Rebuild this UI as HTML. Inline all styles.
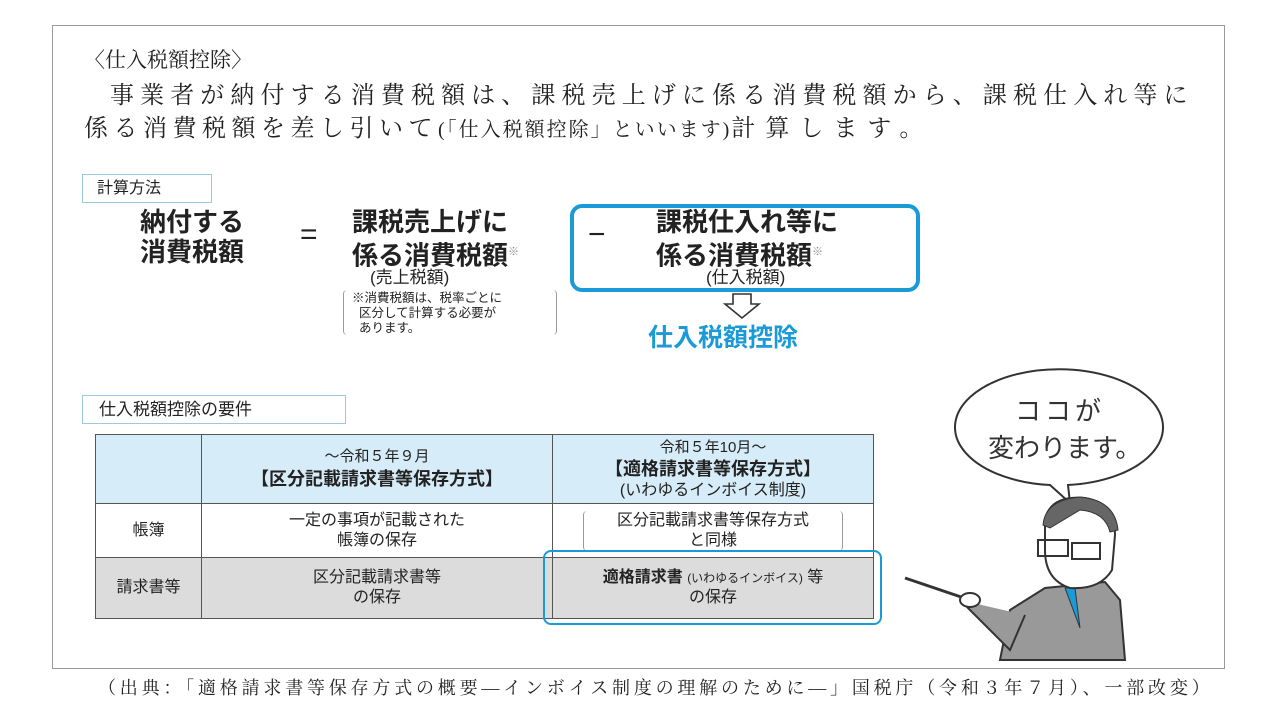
<!DOCTYPE html>
<html><head><meta charset="utf-8"><style>
body{margin:0;width:1280px;height:720px;background:#fff;position:relative;overflow:hidden;font-family:"Liberation Sans","Noto Sans CJK JP",sans-serif;color:#222}
.a{position:absolute;white-space:nowrap}
.serif{font-family:"Liberation Serif","Noto Serif CJK SC",serif}
.b{font-weight:bold}
table{border-collapse:collapse;position:absolute;left:95px;top:434px}
td{border:1px solid #555;text-align:center;font-size:16px;line-height:20px;padding:0}
</style></head><body>
<div class="a" style="left:52px;top:25px;width:1171px;height:642px;border:1px solid #999"></div>
<div class="a serif" style="left:84px;top:44px;font-size:21px">〈仕入税額控除〉</div>
<div class="a serif" style="left:110px;top:75px;font-size:24px;letter-spacing:6.1px">事業者が納付する消費税額は、課税売上げに係る消費税額から、課税仕入れ等に</div>
<div class="a serif" style="left:84px;top:108px;font-size:24px;letter-spacing:5.5px">係る消費税額を差し引いて<span style="font-size:20px;letter-spacing:2px">(「仕入税額控除」といいます)</span><span style="letter-spacing:10px">計算します。</span></div>

<div class="a" style="left:82px;top:174px;width:128px;height:27px;border:1px solid #9cc9df;font-size:16px;line-height:27px;text-indent:14px">計算方法</div>
<div class="a b" style="left:140px;top:207px;font-size:26px;line-height:30px">納付する<br>消費税額</div>
<div class="a" style="left:300px;top:218px;font-size:30px">=</div>
<div class="a b" style="left:352px;top:207px;font-size:26px;line-height:30px">課税売上げに<br>係る消費税額<sup style="font-size:11px;font-weight:normal;color:#888">※</sup></div>
<div class="a" style="left:370px;top:263px;font-size:17px">(売上税額)</div>
<div class="a" style="left:343px;top:290px;width:204px;height:44px;border-left:1px solid #999;border-right:1px solid #999;border-radius:4px;font-size:12.5px;line-height:15px;padding-left:8px;padding-top:1px">※消費税額は、税率ごとに<br>&nbsp;&nbsp;区分して計算する必要が<br>&nbsp;&nbsp;あります。</div>
<div class="a" style="left:570px;top:204px;width:342px;height:80px;border:4px solid #1a9ad6;border-radius:12px"></div>
<div class="a" style="left:588px;top:218px;font-size:30px">−</div>
<div class="a b" style="left:656px;top:207px;font-size:26px;line-height:30px">課税仕入れ等に<br>係る消費税額<sup style="font-size:11px;font-weight:normal;color:#888">※</sup></div>
<div class="a" style="left:706px;top:263px;font-size:17px">(仕入税額)</div>
<svg class="a" style="left:722px;top:292px" width="40" height="28"><path d="M11 2H29V12H37L20 26L3 12H11Z" fill="none" stroke="#333" stroke-width="1.6"/></svg>
<div class="a b" style="left:648px;top:318px;font-size:25px;color:#1a9ad6">仕入税額控除</div>

<div class="a" style="left:82px;top:395px;width:262px;height:27px;border:1px solid #9cc9df;font-size:17px;line-height:27px;text-indent:16px">仕入税額控除の要件</div>
<table>
<tr style="height:69px;background:#d6ecf8"><td style="width:105px"></td><td style="width:350px"><span style="font-size:15px">〜令和５年９月</span><br><b style="font-size:18px;line-height:24px">【区分記載請求書等保存方式】</b></td><td style="width:320px"><span style="font-size:15px">令和５年10月〜</span><br><b style="font-size:18px;line-height:22px">【適格請求書等保存方式】</b><br>(いわゆるインボイス制度)</td></tr>
<tr style="height:54px"><td>帳簿</td><td>一定の事項が記載された<br>帳簿の保存</td><td><div style="margin:0 30px;border-left:1px solid #999;border-right:1px solid #999;border-radius:4px">区分記載請求書等保存方式<br>と同様</div></td></tr>
<tr style="height:61px;background:#dcdcdc"><td>請求書等</td><td>区分記載請求書等<br>の保存</td><td><b>適格請求書</b> <span style="font-size:12px">(いわゆるインボイス)</span> 等<br>の保存</td></tr>
</table>
<div class="a" style="left:543px;top:550px;width:335px;height:71px;border:2.5px solid #1a9ad6;border-radius:8px"></div>

<svg class="a" style="left:900px;top:360px" width="330" height="310">
<path d="M170 143 L168 125 A104 58 0 1 0 150 125 Z" fill="#fff" stroke="#333" stroke-width="2"/>
<text x="115" y="60" font-size="26" font-family="Noto Sans CJK JP,sans-serif" fill="#333" letter-spacing="4">ココが</text>
<text x="88" y="97" font-size="26" font-family="Noto Sans CJK JP,sans-serif" fill="#333">変わります。</text>
<path d="M100 300 L110 250 L145 228 L205 222 L220 240 L225 300 Z" fill="#999" stroke="#333" stroke-width="2"/>
<path d="M60 240 L110 290 L125 255" fill="#999" stroke="#333" stroke-width="2"/>
<path d="M165 228 L180 268 L175 228Z" fill="#1a9ad6" stroke="#333"/>
<path d="M145 160 Q150 135 185 138 Q215 145 215 175 L212 210 Q200 230 170 228 Q145 220 145 190Z" fill="#fff" stroke="#333" stroke-width="2"/>
<path d="M143 165 Q145 140 180 137 Q215 140 218 170 L210 172 Q205 152 180 150 L150 168Z" fill="#666" stroke="#333"/>
<rect x="138" y="180" width="30" height="16" fill="none" stroke="#333" stroke-width="2"/>
<rect x="172" y="183" width="28" height="16" fill="none" stroke="#333" stroke-width="2"/>
<path d="M5 218 L70 240" stroke="#333" stroke-width="3"/>
<ellipse cx="70" cy="240" rx="10" ry="7" fill="#fff" stroke="#333" stroke-width="2"/>
</svg>

<div class="a serif" style="left:98px;top:674px;font-size:18px;letter-spacing:3.8px">（出典：「適格請求書等保存方式の概要—インボイス制度の理解のために—」国税庁（令和３年７月）、一部改変）</div>
</body></html>
